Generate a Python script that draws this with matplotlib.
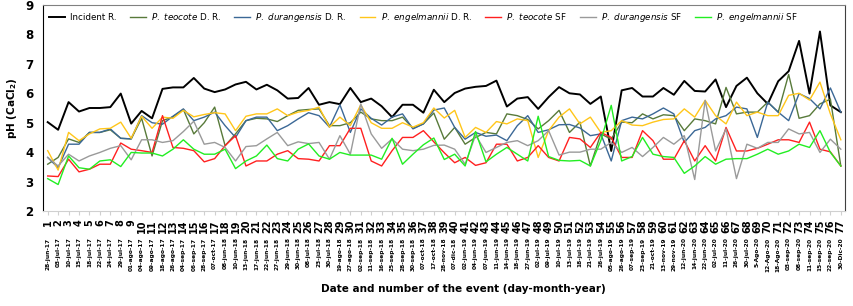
import matplotlib
matplotlib.use("Agg")
import matplotlib.pyplot as plt
import numpy as np

# event numbers and dates
events = list(range(1, 78))
dates = ["28-jun-17", "03-jul-17", "10-jul-17", "15-jul-17", "18-jul-17", "22-jul-17", "24-jul-17",
         "29-jul-17", "01-ago-17", "04-ago-17", "09-ago-17", "18-ago-17", "26-ago-17", "04-sep-17",
         "06-sep-17", "28-sep-17", "07-oct-17", "08-jun-18", "10-jun-18", "13-jun-18", "17-jun-18",
         "22-jun-18", "27-jun-18", "29-jun-18", "30-jun-18", "08-jul-18", "23-jul-18", "30-jul-18",
         "19-ago-18", "27-ago-18", "02-sep-18", "11-sep-18", "16-sep-18", "25-sep-18", "28-sep-18",
         "30-sep-18", "07-oct-18", "17-oct-18", "28-nov-18", "07-dic-18", "02-jun-19", "04-jun-19",
         "07-jun-19", "11-jun-19", "14-jun-19", "18-jun-19", "27-jun-19", "02-jul-19", "09-jul-19",
         "10-jul-19", "13-jul-19", "18-jul-19", "21-jul-19", "26-jul-19", "05-ago-19", "26-ago-19",
         "07-sep-19", "23-sep-19", "21-oct-19", "13-nov-19", "29-nov-19", "12-jun-20", "14-jun-20",
         "22-jun-20", "02-jul-20", "11-jul-20", "26-jul-20", "30-jul-20", "5-Ago-20", "12-Ago-20",
         "18-Ago-20", "03-sep-20", "08-sep-20", "11-sep-20", "15-sep-20", "22-sep-20", "30-Dic-20"]

incident = [5.02, 4.76, 5.70, 5.38, 5.50, 5.50, 5.53, 5.99, 4.97, 5.40,
            5.15, 6.15, 6.20, 6.20, 6.52, 6.16, 6.04, 6.13, 6.30, 6.39,
            6.13, 6.29, 6.10, 5.82, 5.84, 6.18, 5.61, 5.70, 5.63, 6.18,
            5.70, 5.82, 5.56, 5.19, 5.61, 5.61, 5.34, 6.12, 5.70, 6.01,
            6.16, 6.22, 6.25, 6.43, 5.55, 5.82, 5.87, 5.47, 5.87, 6.21,
            6.00, 5.96, 5.64, 5.89, 4.04, 6.10, 6.18, 5.89, 5.89, 6.18,
            5.95, 6.42, 6.08, 6.06, 6.47, 5.53, 6.25, 6.53, 6.00, 5.64,
            6.41, 6.75, 7.78, 5.99, 8.10, 5.59, 5.36]

teocote_dr = [3.59, 3.82, 4.45, 4.33, 4.67, 4.67, 4.76, 4.47, 4.45, 5.15, 3.87, 5.07,
              5.20, 5.45, 4.62, 5.00, 5.53, 4.22, 4.62, 5.07, 5.15, 5.13, 5.04, 5.24, 5.42, 5.45,
              5.47, 4.90, 4.90, 5.00, 5.36, 5.13, 5.07, 5.07, 5.19, 4.81, 4.96, 5.33,
              4.44, 4.84, 4.27, 4.50, 4.67, 4.62, 5.30, 5.24, 5.11, 4.79, 5.07, 5.42, 4.67, 5.02,
              3.53, 4.62, 4.44, 5.02, 5.00, 5.30, 5.13, 5.27, 5.24, 4.73, 5.13, 5.07, 4.96, 6.20,
              5.30, 5.36, 5.36, 5.70, 5.36, 6.64, 5.15, 5.24, 5.64, 5.80, 3.53]

durangensis_dr = [3.82, 3.47, 4.27, 4.27, 4.67, 4.67, 4.79, 4.47, 4.45, 5.24, 5.00, 4.95,
                  5.22, 5.47, 5.07, 5.19, 5.36, 4.90, 4.50, 5.07, 5.19, 5.19, 4.73, 4.90, 5.13, 5.34,
                  5.24, 4.85, 5.61, 4.67, 5.47, 5.15, 4.92, 5.19, 5.30, 4.79, 4.96, 5.43,
                  5.50, 4.84, 4.44, 4.67, 4.54, 4.58, 4.39, 4.90, 5.24, 4.67, 4.76, 4.93, 4.94, 4.82,
                  4.56, 4.62, 3.70, 5.07, 5.19, 5.13, 5.30, 5.50, 5.30, 4.33, 4.73, 4.84, 5.13, 5.24,
                  5.53, 5.47, 4.50, 5.70, 5.36, 5.07, 5.99, 5.82, 5.47, 6.18, 5.36]

engelmannii_dr = [4.05, 3.39, 4.67, 4.39, 4.62, 4.79, 4.81, 5.02, 4.47, 5.22, 4.81, 5.19,
                  5.15, 5.42, 5.20, 5.28, 5.34, 5.30, 4.73, 5.22, 5.30, 5.30, 5.47, 5.24, 5.36, 5.42,
                  5.53, 4.85, 5.19, 4.90, 5.61, 5.00, 4.81, 4.81, 5.00, 4.85, 5.00, 5.50,
                  5.16, 5.42, 4.50, 4.84, 4.67, 5.04, 4.96, 5.13, 5.07, 3.82, 4.73, 5.19, 5.47, 4.96,
                  5.19, 4.67, 4.73, 5.07, 4.92, 4.90, 5.02, 5.11, 5.13, 5.47, 5.19, 5.76, 5.24, 4.96,
                  5.70, 5.24, 5.36, 5.24, 5.24, 5.93, 6.00, 5.77, 6.38, 5.30, 4.42]

teocote_sf = [3.19, 3.17, 3.76, 3.33, 3.42, 3.59, 3.59, 4.31, 4.10, 4.05, 3.99, 5.24,
              4.16, 4.13, 4.05, 3.67, 3.78, 4.22, 4.56, 3.53, 3.70, 3.70, 3.93, 4.05, 3.78, 3.76,
              3.70, 4.22, 4.22, 4.81, 4.81, 3.70, 3.53, 4.05, 4.50, 4.50, 4.73, 4.35,
              3.98, 3.64, 3.82, 3.55, 3.64, 4.27, 4.27, 3.70, 3.82, 4.22, 3.82, 3.70, 4.50, 4.45,
              4.16, 4.67, 4.50, 3.82, 3.82, 4.73, 4.39, 3.76, 3.76, 4.39, 3.70, 4.22, 3.70, 4.84,
              4.04, 4.04, 4.13, 4.27, 4.42, 4.42, 4.33, 5.02, 4.10, 4.01, 3.53]

durangensis_sf = [3.82, 3.53, 3.93, 3.70, 3.87, 3.99, 4.13, 4.22, 3.74, 4.42, 4.42, 4.33,
                  4.39, 4.70, 5.05, 4.27, 4.33, 4.16, 3.70, 4.19, 4.22, 4.45, 4.67, 4.22, 4.35, 4.29,
                  4.33, 3.76, 4.56, 3.93, 5.64, 4.62, 4.13, 4.45, 4.10, 4.05, 4.10, 4.23,
                  4.24, 4.10, 3.59, 4.58, 3.99, 4.16, 4.33, 4.39, 4.22, 4.39, 4.73, 3.90, 4.00, 4.00,
                  4.10, 4.10, 4.33, 3.99, 4.16, 3.85, 4.16, 4.50, 4.27, 4.56, 3.07, 5.76, 4.04, 4.79,
                  3.10, 4.27, 4.13, 4.33, 4.33, 4.79, 4.62, 4.67, 3.99, 4.44, 4.10]

engelmannii_sf = [3.10, 2.90, 3.87, 3.47, 3.42, 3.70, 3.74, 3.51, 3.99, 3.97, 3.97, 3.87,
                  4.10, 4.42, 4.10, 3.93, 3.93, 4.10, 3.44, 3.70, 3.87, 4.24, 3.78, 3.70, 4.10, 4.28,
                  3.87, 3.76, 3.99, 3.90, 3.90, 3.90, 3.76, 4.47, 3.59, 3.93, 4.25, 4.48,
                  3.75, 3.93, 3.53, 4.70, 3.67, 3.93, 4.16, 3.93, 3.70, 5.22, 3.85, 3.72, 3.70, 3.72,
                  3.53, 4.39, 5.59, 3.70, 3.85, 4.50, 3.93, 3.85, 3.82, 3.28, 3.53, 3.85, 3.59, 3.76,
                  3.78, 3.78, 3.93, 4.10, 3.93, 4.04, 4.27, 4.16, 4.73, 3.99, 3.53]

series = [
    (incident, "Incident R.", "#000000", 1.4),
    (teocote_dr, r"$\mathit{P.\ teocote}$ D. R.", "#587a3a", 1.0),
    (durangensis_dr, r"$\mathit{P.\ durangensis}$ D. R.", "#3b6896", 1.0),
    (engelmannii_dr, r"$\mathit{P.\ engelmannii}$ D. R.", "#ffc61a", 1.0),
    (teocote_sf, r"$\mathit{P.\ teocote}$ SF", "#ff2020", 1.0),
    (durangensis_sf, r"$\mathit{P.\ durangensis}$ SF", "#9a9a9a", 1.0),
    (engelmannii_sf, r"$\mathit{P.\ engelmannii}$ SF", "#22ee22", 1.0),
]

fig = plt.figure(figsize=(8.54, 3.06), dpi=100)
ax = fig.add_axes([43 / 854, 1 - 211 / 306, (845 - 43) / 854, (211 - 5) / 306])

for vals, lab, col, lw in series:
    ax.plot(events, vals, color=col, lw=lw, label=lab)

ax.set_xlim(0.55, 77.4)
ax.set_ylim(2, 9)
ax.set_yticks(range(2, 10))
ax.tick_params(axis="y", length=0, pad=7, labelsize=8.5)
for t in ax.get_yticklabels():
    t.set_fontweight("bold")

ax.set_xticks(events)
ax.set_xticklabels([str(e) for e in events], rotation=90, fontsize=7, fontweight="bold")
ax.tick_params(axis="x", length=3, color="#d0d0d0", pad=3)

# dates under the event numbers
for e, d in zip(events, dates):
    ax.annotate(d, xy=(e, 0), xycoords=("data", "axes fraction"), xytext=(0, -19),
                textcoords="offset points", rotation=90, ha="center", va="top",
                fontsize=4.2, fontweight="bold")

ax.spines["left"].set_color("#000000")
ax.spines["top"].set_color("#808080")
ax.spines["right"].set_color("#404040")
ax.spines["bottom"].set_color("#d0d0d0")

ax.set_ylabel(r"pH (CaCl$_\mathbf{2}$)", fontsize=7.5, fontweight="bold")
ax.yaxis.set_label_coords(-0.03, 0.5)
fig.text(463 / 854, 1 - 289 / 306, "Date and number of the event (day-month-year)",
         ha="center", va="center", fontsize=7.5, fontweight="bold")

ax.legend(loc="upper left", bbox_to_anchor=(0.0, 1.0), ncol=7, frameon=False, fontsize=6.3,
          handlelength=1.8, handletextpad=0.6, columnspacing=1.5, borderaxespad=0.3)

fig.savefig("out.png", dpi=100)
